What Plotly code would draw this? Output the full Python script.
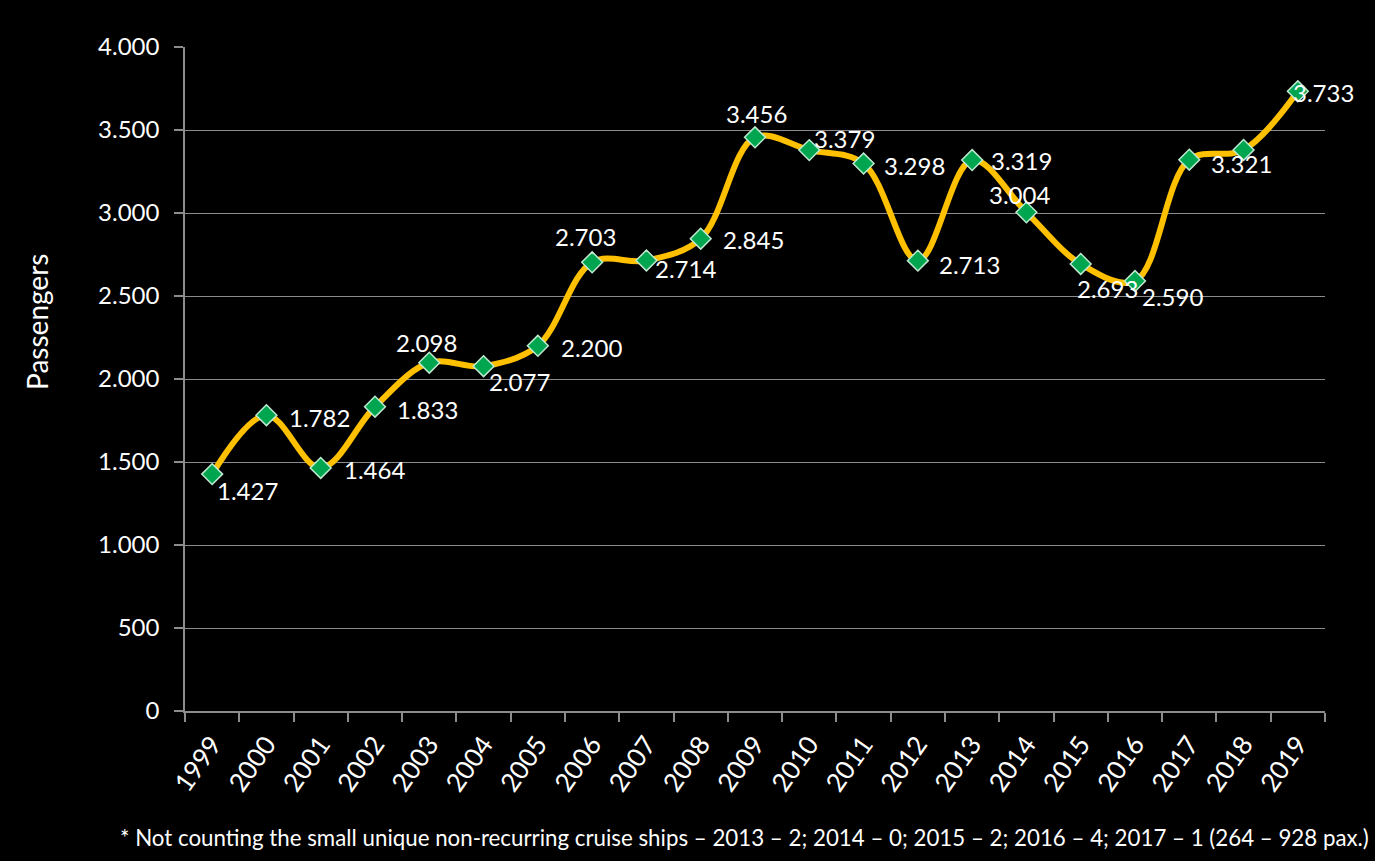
import plotly.graph_objects as go

# Yearly cruise passengers
years = [str(y) for y in range(1999, 2020)]
passengers = [1427, 1782, 1464, 1833, 2098, 2077, 2200, 2703, 2714, 2845,
              3456, 3379, 3298, 2713, 3319, 3004, 2693, 2590, 3321, 3380, 3733]
# which points carry a value label (2018 has none)
show_label = [True] * 21
show_label[19] = False

# label offsets from each marker (pixels, +y is up)
label_dx = [35, 53, 54, 52, -3, 36, 54, -7, 39, 53, 1, 35, 51, 52, 49, -7, 27, 37, 52, 0, 26]
label_dy = [-16, -2, -2, -3, 20, -15, -2, 26, -8, -1, 24, 12, -2, -4, 0, 18, -25, -15, -4, 0, -1]

y_ticks = list(range(0, 4001, 500))

FONT = "Lato"
TXT = "#ffffff"
GRID = "#8c8c8c"


def fmt(v):
    return f"{v:,}".replace(",", ".")


fig = go.Figure()
fig.add_trace(go.Scatter(
    x=years, y=passengers,
    mode="lines+markers",
    line=dict(color="#FFC000", width=6, shape="spline", smoothing=1.0),
    marker=dict(symbol="diamond", size=16, color="#00A550",
                line=dict(color="#bfead0", width=1.5)),
    hoverinfo="x+y",
    showlegend=False,
))

annotations = []
for i, v in enumerate(passengers):
    if not show_label[i]:
        continue
    annotations.append(dict(
        x=i, y=v, xref="x", yref="y", text=fmt(v), showarrow=False,
        xanchor="center", yanchor="middle",
        xshift=label_dx[i], yshift=label_dy[i],
        font=dict(family=FONT, size=24, color=TXT),
    ))

annotations.append(dict(
    x=-0.1298, y=0.586, xref="paper", yref="paper", text="Passengers",
    textangle=-90, showarrow=False, xanchor="center", yanchor="middle",
    font=dict(family=FONT, size=28, color=TXT),
))
annotations.append(dict(
    x=-0.0588, y=-0.191, xref="paper", yref="paper",
    text="* Not counting the small unique non-recurring cruise ships \u2013 2013 \u2013 2; "
         "2014 \u2013 0; 2015 \u2013 2; 2016 \u2013 4; 2017 \u2013 1 (264 \u2013 928 pax.)",
    showarrow=False, xanchor="left", yanchor="middle",
    font=dict(family=FONT, size=22.3, color=TXT),
))

fig.update_layout(
    width=1375, height=861,
    paper_bgcolor="#000000", plot_bgcolor="#000000",
    margin=dict(l=185, r=50, t=47, b=150, autoexpand=False),
    separators=",.",
    annotations=annotations,
    xaxis=dict(
        type="category", range=[-0.5, 20.5], tickson="boundaries",
        ticks="outside", ticklen=9, tickcolor=GRID, tickwidth=1.5,
        ticklabelstandoff=6,
        showline=True, linecolor=GRID, linewidth=1.5,
        showgrid=False, zeroline=False,
        tickangle=-55, tickfont=dict(family=FONT, size=26, color=TXT),
    ),
    yaxis=dict(
        range=[0, 4000], tickvals=y_ticks, tickformat=",d",
        ticks="outside", ticklen=9, tickcolor=GRID, tickwidth=1.5,
        ticklabelstandoff=10,
        showline=True, linecolor=GRID, linewidth=1.5,
        showgrid=True, gridcolor=GRID, gridwidth=1.2, zeroline=False,
        tickfont=dict(family=FONT, size=24, color=TXT),
    ),
)

fig.write_html("out.html")
